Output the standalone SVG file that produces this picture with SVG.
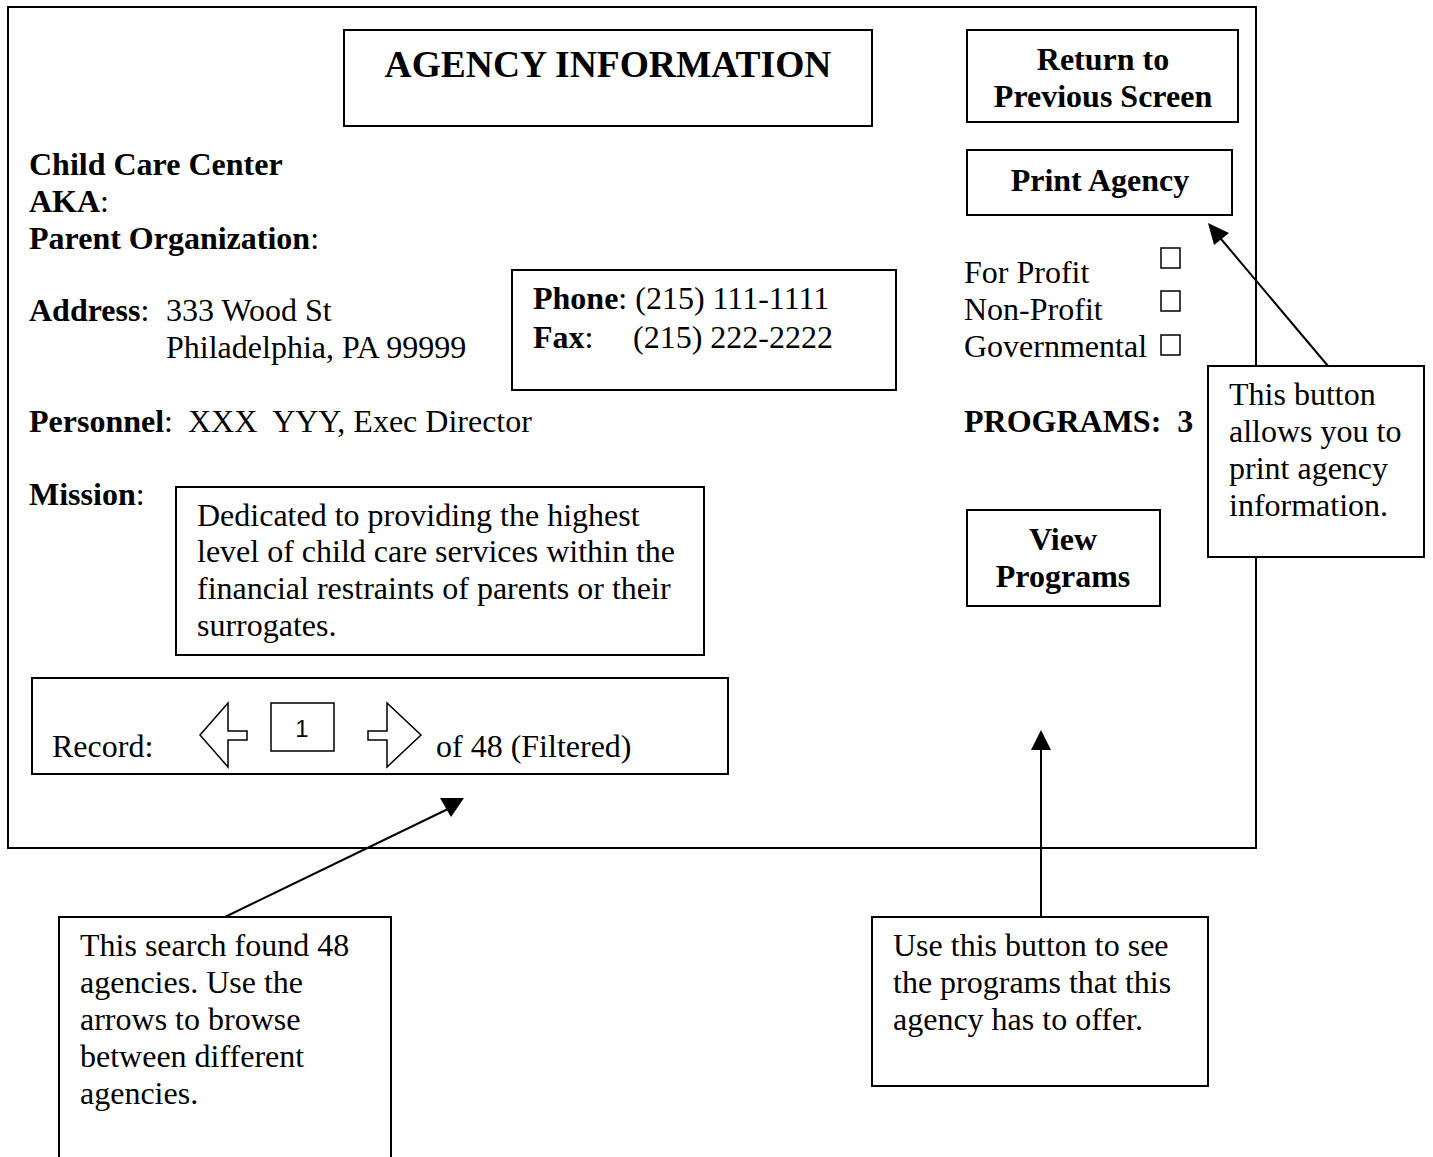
<svg xmlns="http://www.w3.org/2000/svg" width="1433" height="1157" viewBox="0 0 1433 1157">
<style>
.box{fill:#fff;stroke:#000;stroke-width:2}
.t{font-family:"Liberation Serif","Times New Roman",serif;font-size:32px;fill:#000;white-space:pre}
.b{font-weight:bold}
.c{text-anchor:middle}
.cb{fill:#fff;stroke:#000;stroke-width:1.5}
.ln{stroke:#000;stroke-width:2;fill:none}
</style>
<rect width="1433" height="1157" fill="#fff"/>
<g id="frame"><rect class="box" x="8" y="7" width="1248" height="841"/></g>
<g id="title"><rect class="box" x="344" y="30" width="528" height="96"/>
<text class="t b c" x="608" y="77" style="font-size:37.5px">AGENCY INFORMATION</text></g>
<g id="return-btn"><rect class="box" x="967" y="30" width="271" height="92"/>
<text class="t b c" x="1103" y="70">Return to</text><text class="t b c" x="1103" y="107">Previous Screen</text></g>
<g id="print-btn"><rect class="box" x="967" y="150" width="265" height="65"/>
<text class="t b c" x="1100" y="191">Print Agency</text></g>
<g id="agency-info">
<text class="t b" x="29" y="175">Child Care Center</text>
<text class="t" x="29" y="212"><tspan class="b">AKA</tspan>:</text>
<text class="t" x="29" y="249"><tspan class="b">Parent Organization</tspan>:</text>
<text class="t" x="29" y="321"><tspan class="b">Address</tspan>:</text>
<text class="t" x="166" y="321">333 Wood St</text>
<text class="t" x="166" y="358">Philadelphia, PA 99999</text>
<text class="t" x="29" y="432"><tspan class="b">Personnel</tspan>:</text>
<text class="t" x="188" y="432" xml:space="preserve">XXX  YYY, Exec Director</text>
<text class="t" x="29" y="505"><tspan class="b">Mission</tspan>:</text>
</g>
<g id="phone"><rect class="box" x="512" y="270" width="384" height="120"/>
<text class="t" x="533" y="309"><tspan class="b">Phone</tspan>: (215) 111-1111</text>
<text class="t" x="533" y="348"><tspan class="b">Fax</tspan>:</text>
<text class="t" x="633" y="348">(215) 222-2222</text></g>
<g id="type">
<text class="t" x="964" y="283">For Profit</text>
<text class="t" x="964" y="320">Non-Profit</text>
<text class="t" x="964" y="357">Governmental</text>
<rect class="cb" x="1161" y="248" width="19" height="20"/>
<rect class="cb" x="1161" y="291" width="19" height="20"/>
<rect class="cb" x="1161" y="335" width="19" height="20"/>
</g>
<g id="programs"><text class="t b" x="964" y="432" xml:space="preserve">PROGRAMS:  3</text></g>
<g id="mission"><rect class="box" x="176" y="487" width="528" height="168"/>
<text class="t" x="197" y="526">Dedicated to providing the highest</text>
<text class="t" x="197" y="562">level of child care services within the</text>
<text class="t" x="197" y="599">financial restraints of parents or their</text>
<text class="t" x="197" y="636">surrogates.</text></g>
<g id="view-btn"><rect class="box" x="967" y="510" width="193" height="96"/>
<text class="t b c" x="1063" y="550">View</text><text class="t b c" x="1063" y="587">Programs</text></g>
<g id="record"><rect class="box" x="32" y="678" width="696" height="96"/>
<text class="t" x="52" y="757">Record:</text>
<polygon class="cb" points="200,735 228,703 228,731 247,731 247,740 228,740 228,767"/>
<rect class="cb" x="271" y="703" width="63" height="48"/>
<text x="302" y="737" text-anchor="middle" style="font-family:'Liberation Sans',Arial,sans-serif;font-size:24px">1</text>
<polygon class="cb" points="368,731 387,731 387,703 421,735 387,767 387,740 368,740"/>
<text class="t" x="436" y="757">of 48 (Filtered)</text></g>
<g id="note-print"><rect class="box" x="1208" y="366" width="216" height="191"/>
<text class="t" x="1229" y="405">This button</text>
<text class="t" x="1229" y="442">allows you to</text>
<text class="t" x="1229" y="479">print agency</text>
<text class="t" x="1229" y="516">information.</text></g>
<g id="note-record"><rect class="box" x="59" y="917" width="332" height="260"/>
<text class="t" x="80" y="956">This search found 48</text>
<text class="t" x="80" y="993">agencies. Use the</text>
<text class="t" x="80" y="1030">arrows to browse</text>
<text class="t" x="80" y="1067">between different</text>
<text class="t" x="80" y="1104">agencies.</text></g>
<g id="note-view"><rect class="box" x="872" y="917" width="336" height="169"/>
<text class="t" x="893" y="956">Use this button to see</text>
<text class="t" x="893" y="993">the programs that this</text>
<text class="t" x="893" y="1030">agency has to offer.</text></g>
<g id="connectors">
<line class="ln" x1="225" y1="917" x2="450" y2="808"/>
<polygon points="440,798 464,798 451,817" fill="#000"/>
<line class="ln" x1="1041" y1="917" x2="1041" y2="748"/>
<polygon points="1041,730 1051,750 1031,750" fill="#000"/>
<line class="ln" x1="1328" y1="366" x2="1216" y2="233"/>
<polygon points="1208,223 1229,233 1214,245" fill="#000"/>
</g>
</svg>
